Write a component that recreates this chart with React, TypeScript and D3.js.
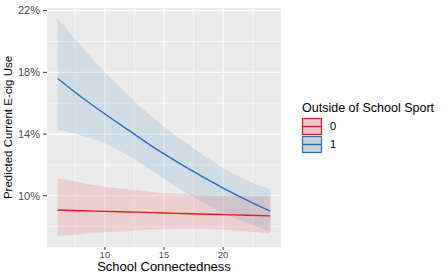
import React from "react";
import * as d3 from "d3";

const xs = [6, 8, 10, 12, 14, 16, 18, 20, 22, 24];
const blueFit = [17.6, 16.4, 15.3, 14.25, 13.2, 12.25, 11.35, 10.5, 9.72, 9.0];
const blueUpper = [21.5, 19.7, 18.0, 16.5, 15.1, 13.9, 12.8, 11.8, 11.0, 10.4];
const blueLower = [14.3, 13.9, 13.4, 12.6, 11.6, 10.6, 9.7, 8.9, 8.25, 7.7];
const redFit = [9.08, 9.03, 8.99, 8.95, 8.91, 8.86, 8.82, 8.78, 8.74, 8.7];
const redUpper = [11.15, 10.85, 10.58, 10.4, 10.25, 10.13, 10.05, 10.0, 10.0, 10.0];
const redLower = [7.39, 7.52, 7.63, 7.72, 7.8, 7.84, 7.85, 7.8, 7.7, 7.56];

const xTicks = [10, 15, 20];
const xMinor = [7.5, 12.5, 17.5, 22.5];
const yTicks = [10, 14, 18, 22];
const yMinor = [8, 12, 16, 20];
const groups = ["0", "1"];

const RED = "#e41a1c";
const BLUE = "#2a6db3";
const RED_FILL = "rgba(232,40,50,0.15)";
const BLUE_FILL = "rgba(55,126,184,0.15)";

export default function App() {
  const W = 447, H = 274;
  const left = 47, right = 281, top = 8, bottom = 247;
  const x = d3.scaleLinear().domain([5.1, 24.9]).range([left, right]);
  const y = d3.scaleLinear().domain([6.68, 22.17]).range([bottom, top]);

  const idx = xs.map((_, i) => i);
  const area = (lo: number[], hi: number[]) =>
    d3.area<number>().x(i => x(xs[i])).y0(i => y(lo[i])).y1(i => y(hi[i])).curve(d3.curveMonotoneX)(idx) || "";
  const line = (v: number[]) =>
    d3.line<number>().x(i => x(xs[i])).y(i => y(v[i])).curve(d3.curveMonotoneX)(idx) || "";

  const font = "Liberation Sans, Arial, sans-serif";
  const series = [
    { lo: redLower, hi: redUpper, fit: redFit, col: RED, fill: RED_FILL },
    { lo: blueLower, hi: blueUpper, fit: blueFit, col: BLUE, fill: BLUE_FILL },
  ];

  return (
    <div style={{ position: "absolute", left: 0, top: 0 }}>
      <svg width={W} height={H} style={{ display: "block", background: "#fff" }} fontFamily={font}>
        <rect x={left} y={top} width={right - left} height={bottom - top} fill="#ebebeb" />
        {xMinor.map(t => (
          <line key={"xm" + t} x1={x(t)} x2={x(t)} y1={top} y2={bottom} stroke="#fff" strokeWidth={0.6} />
        ))}
        {yMinor.map(t => (
          <line key={"ym" + t} x1={left} x2={right} y1={y(t)} y2={y(t)} stroke="#fff" strokeWidth={0.6} />
        ))}
        {xTicks.map(t => (
          <line key={"xg" + t} x1={x(t)} x2={x(t)} y1={top} y2={bottom} stroke="#fff" strokeWidth={1.2} />
        ))}
        {yTicks.map(t => (
          <line key={"yg" + t} x1={left} x2={right} y1={y(t)} y2={y(t)} stroke="#fff" strokeWidth={1.2} />
        ))}
        {series.map((s, i) => (
          <path key={"a" + i} d={area(s.lo, s.hi)} fill={s.fill} />
        ))}
        {series.map((s, i) => (
          <path key={"l" + i} d={line(s.fit)} fill="none" stroke={s.col} strokeWidth={1.4} />
        ))}
        {yTicks.map(t => (
          <g key={"yt" + t}>
            <line x1={left - 4} x2={left} y1={y(t)} y2={y(t)} stroke="#333" strokeWidth={1} />
            <text x={left - 7} y={y(t)} dy="0.35em" textAnchor="end" fontSize={11} fill="#4d4d4d">
              {t}%
            </text>
          </g>
        ))}
        {xTicks.map(t => (
          <g key={"xt" + t}>
            <line x1={x(t)} x2={x(t)} y1={bottom} y2={bottom + 3} stroke="#333" strokeWidth={1} />
            <text x={x(t)} y={257.5} textAnchor="middle" fontSize={9.5} fill="#4d4d4d">
              {t}
            </text>
          </g>
        ))}
        <text x={(left + right) / 2} y={271} textAnchor="middle" fontSize={13} fill="#000">
          School Connectedness
        </text>
        <text
          transform={`translate(11.5,${(top + bottom) / 2}) rotate(-90)`}
          textAnchor="middle"
          fontSize={11.5}
          fill="#000"
        >
          Predicted Current E-cig Use
        </text>
        <text x={302} y={112} fontSize={12.5} fill="#000">
          Outside of School Sport
        </text>
        {groups.map((g, i) => {
          const s = series[i];
          const ky = 118 + i * 18;
          return (
            <g key={"lg" + g}>
              <rect x={302.5} y={ky + 0.5} width={19} height={16} fill="#e6e2e2" stroke={s.col} strokeWidth={1.2} />
              <rect x={303} y={ky + 1} width={18} height={15} fill={s.fill} />
              <line x1={303} x2={321} y1={ky + 8.5} y2={ky + 8.5} stroke={s.col} strokeWidth={1.4} />
              <text x={330} y={ky + 8.5} dy="0.35em" fontSize={11} fill="#000">
                {g}
              </text>
            </g>
          );
        })}
      </svg>
    </div>
  );
}
